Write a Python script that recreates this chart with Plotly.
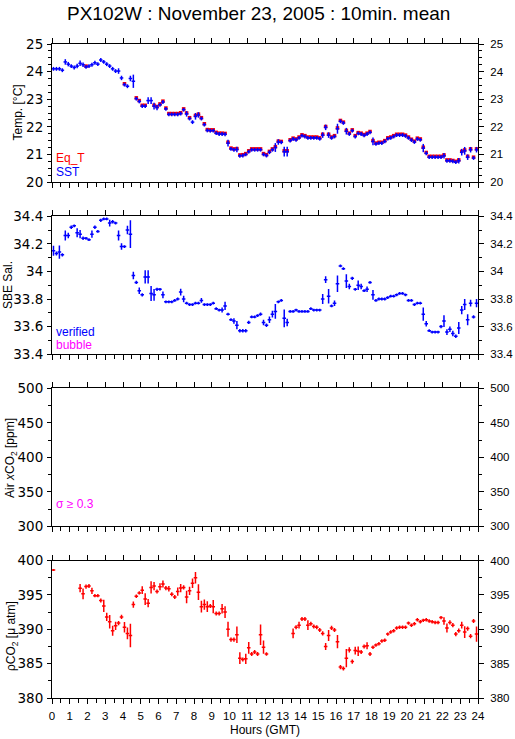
import plotly.graph_objects as go

# ---------------- data (10-minute means, 144 slots per day) ----------------
SST = [
    24.10, 24.10, 24.10, 24.05, 24.35, 24.27,
    24.20, 24.15, 24.20, 24.30, 24.25, 24.17,
    24.20, 24.25, 24.32, 24.27, 24.42, 24.35,
    24.27, 24.20, 24.10, 24.02, 24.02, 23.77,
    23.53, 23.47, 23.75, 23.65, 23.02, 22.92,
    22.75, 22.75, 22.95, 22.95, 22.75, 22.70,
    22.80, 22.90, 22.65, 22.45, 22.45, 22.45,
    22.45, 22.48, 22.62, 22.47, 22.30, 22.17,
    22.38, 22.43, 22.30, 22.08, 21.87, 21.86,
    21.86, 21.77, 21.74, 21.74, 21.73, 21.41,
    21.20, 21.17, 21.18, 20.95, 20.96, 21.00,
    21.10, 21.17, 21.17, 21.17, 21.17, 21.00,
    20.96, 21.08, 21.17, 21.25, 21.45, 21.44,
    21.10, 21.10, 21.50, 21.56, 21.53, 21.60,
    21.68, 21.65, 21.60, 21.60, 21.60, 21.60,
    21.57, 21.70, 21.98, 21.70, 21.60, 21.65,
    21.93, 22.20, 22.14, 21.84, 21.74, 21.86,
    21.65, 21.76, 21.74, 21.69, 21.74, 21.80,
    21.47, 21.38, 21.41, 21.41, 21.47, 21.57,
    21.60, 21.65, 21.70, 21.70, 21.70, 21.67,
    21.60, 21.52, 21.45, 21.56, 21.53, 21.23,
    21.04, 20.90, 20.90, 20.90, 20.90, 20.90,
    20.95, 20.77, 20.77, 20.75, 20.72, 20.77,
    21.08, 21.13, 20.90, 21.17, 20.87, 21.17,
]
SST_SD = [
    .07, .07, .07, .07, .10, .08,
    .07, .07, .08, .10, .08, .07,
    .07, .07, .07, .07, .07, .07,
    .07, .07, .07, .07, .10, .08,
    .07, .07, .10, .24, .07, .07,
    .07, .07, .12, .12, .12, .10,
    .07, .07, .07, .07, .07, .07,
    .07, .07, .07, .10, .07, .07,
    .12, .10, .07, .07, .07, .07,
    .07, .07, .07, .07, .07, .12,
    .07, .07, .10, .07, .07, .07,
    .07, .07, .07, .07, .07, .07,
    .07, .07, .07, .16, .10, .07,
    .18, .18, .07, .07, .07, .07,
    .07, .07, .07, .07, .07, .07,
    .07, .10, .10, .10, .07, .07,
    .18, .07, .07, .12, .07, .07,
    .07, .07, .07, .07, .07, .07,
    .14, .07, .07, .07, .07, .07,
    .07, .07, .07, .07, .07, .07,
    .07, .07, .07, .07, .07, .15,
    .07, .07, .07, .07, .07, .07,
    .10, .07, .07, .07, .07, .10,
    .12, .14, .10, .10, .07, .10,
]
EQ_T = [
    None, None, None, None, None, None,
    None, None, None, None, None, 24.20,
    None, None, None, None, None, None,
    None, None, None, None, None, None,
    23.56, None, None, None, 23.05, 22.95,
    22.78, 22.78, None, None, 22.78, 22.73,
    22.83, 22.93, 22.68, 22.48, 22.48, 22.48,
    22.48, 22.51, 22.65, 22.50, 22.33, None,
    22.41, 22.46, 22.33, 22.11, 21.90, 21.89,
    21.89, 21.80, 21.77, 21.77, 21.76, 21.44,
    21.23, 21.20, 21.21, 20.98, 20.99, 21.03,
    21.13, 21.20, 21.20, 21.20, 21.20, 21.03,
    20.99, 21.11, 21.20, 21.28, 21.48, 21.47,
    21.13, 21.13, 21.53, 21.59, 21.56, 21.63,
    21.71, 21.68, 21.63, 21.63, 21.63, 21.63,
    21.60, 21.73, 22.01, 21.73, 21.63, 21.68,
    21.96, 22.23, 22.17, 21.87, 21.77, 21.89,
    21.68, 21.79, 21.77, 21.72, 21.77, 21.83,
    21.50, 21.41, 21.44, 21.44, 21.50, 21.60,
    21.63, 21.68, 21.73, 21.73, 21.73, 21.70,
    21.63, 21.55, 21.48, 21.59, 21.56, 21.26,
    21.07, 20.93, 20.93, 20.93, 20.93, 20.93,
    20.98, 20.80, 20.80, 20.78, 20.75, 20.80,
    21.11, 21.16, 20.93, 21.20, 20.90, 21.20,
]
SAL = [
    34.15, 34.13, 34.14, 34.12, 34.26, 34.26,
    34.32, 34.33, 34.28, 34.27, 34.24, 34.24,
    34.23, 34.27, 34.32, 34.29, 34.37, 34.38,
    34.38, 34.35, 34.36, 34.35, 34.26, 34.18,
    34.18, 34.30, 34.27, 33.97, 33.92, 33.86,
    33.83, 33.96, 33.96, 33.84, 33.83, 33.87,
    33.87, 33.83, 33.78, 33.78, 33.78, 33.79,
    33.80, 33.85, 33.80, 33.77, 33.76, 33.76,
    33.77, 33.77, 33.79, 33.76, 33.76, 33.76,
    33.77, 33.73, 33.72, 33.72, 33.75, 33.69,
    33.65, 33.64, 33.61, 33.57, 33.57, 33.57,
    33.63, 33.67, 33.67, 33.68, 33.69, 33.63,
    33.61, 33.65, 33.69, 33.71, 33.78, 33.79,
    33.66, 33.63, 33.71, 33.71, 33.72, 33.71,
    33.71, 33.71, 33.71, 33.73, 33.72, 33.72,
    33.72, 33.80, 33.94, 33.82, 33.75, 33.77,
    33.91, 34.04, 34.02, 33.93, 33.89, 33.95,
    33.87, 33.90, 33.89, 33.86, 33.87, 33.92,
    33.83, 33.79, 33.80, 33.80, 33.80, 33.81,
    33.82, 33.82, 33.83, 33.84, 33.84, 33.83,
    33.79, 33.79, 33.76, 33.77, 33.77, 33.69,
    33.62, 33.57, 33.56, 33.56, 33.56, 33.60,
    33.64, 33.56, 33.58, 33.55, 33.53, 33.59,
    33.72, 33.76, 33.65, 33.77, 33.67, 33.77,
]
SAL_SD = [
    .036, .015, .048, .012, .036, .020,
    .012, .010, .033, .030, .012, .010,
    .010, .027, .012, .010, .012, .010,
    .010, .024, .012, .010, .036, .024,
    .010, .030, .100, .027, .012, .024,
    .012, .048, .048, .054, .042, .012,
    .010, .024, .010, .010, .010, .010,
    .010, .024, .024, .010, .010, .010,
    .010, .010, .018, .010, .010, .010,
    .010, .010, .010, .018, .030, .010,
    .010, .020, .030, .012, .012, .012,
    .012, .010, .010, .010, .012, .020,
    .012, .024, .024, .054, .010, .010,
    .064, .027, .010, .010, .010, .010,
    .010, .010, .010, .010, .010, .010,
    .010, .036, .024, .052, .010, .020,
    .060, .010, .010, .050, .020, .012,
    .010, .034, .020, .010, .020, .010,
    .036, .010, .010, .010, .010, .010,
    .010, .010, .010, .010, .010, .010,
    .010, .010, .010, .010, .010, .048,
    .020, .010, .010, .010, .010, .012,
    .042, .020, .020, .020, .012, .044,
    .030, .040, .040, .024, .012, .030,
]
PCO2 = [
    398.64, None, None, None, None, None,
    None, None, None, 395.98, 395.16, 396.22,
    396.3, 395.6, 394.9, 394.9, 394.2, 393.4,
    391.8, 391.1, 389.8, 390.5, 390.9, 391.8,
    390.3, 389.4, 389.1, 393.6, 394.8, 395.3,
    395.7, 394.4, 393.8, 396.1, 396.3, 395.5,
    396.2, 396.6, 396.0, 395.9, 395.1, 394.7,
    395.5, 396.0, 396.1, 394.7, 395.6, 396.7,
    397.5, 395.4, 393.3, 393.6, 393.3, 393.4,
    393.3, 392.3, 392.3, 393.0, 392.5, 390.0,
    388.5, 388.5, 389.2, 385.8, 385.6, 385.7,
    387.3, 386.4, 386.7, 386.4, 389.2, 387.4,
    386.4, None, None, None, None, None,
    None, None, None, 389.4, 390.3, 390.6,
    391.5, 391.5, 390.6, 390.8, 390.4, 390.3,
    389.9, 389.4, 387.5, 389.1, 390.2, 389.9,
    388.2, 384.5, 384.3, 385.8, 387.0, 385.3,
    386.9, 386.8, 386.7, 387.5, 387.6, 386.4,
    387.4, 387.7, 387.9, 388.3, 388.4, 389.3,
    389.6, 389.8, 390.2, 390.3, 390.3, 390.3,
    390.9, 390.6, 390.8, 391.4, 391.1, 391.3,
    391.4, 391.2, 391.1, 391.0, 391.0, 391.7,
    391.2, 390.2, 391.0, 390.6, 389.3, 389.8,
    390.6, 389.6, 390.1, 389.0, 391.2, 389.3,
]
PCO2_SD = [
    0.15, 0, 0, 0, 0, 0,
    0, 0, 0, 0.6, 0.78, 0.3,
    0.3, 0.45, 0.25, 0.25, 0.3, 0.9,
    0.6, 0.97, 0.73, 0.6, 0.3, 0.3,
    0.78, 0.85, 1.7, 0.45, 0.25, 0.25,
    0.55, 0.85, 0.6, 0.9, 0.6, 0.3,
    0.5, 0.5, 0.3, 0.4, 0.3, 0.3,
    0.6, 0.6, 0.3, 0.9, 0.6, 0.7,
    0.85, 1.15, 0.85, 0.75, 0.8, 0.3,
    0.97, 0.3, 0.3, 0.7, 0.85, 1.1,
    0.3, 0.3, 1.2, 0.85, 0.3, 0.75,
    0.85, 0.3, 0.3, 0.3, 1.5, 0.97,
    0.25, 0, 0, 0, 0, 0,
    0, 0, 0, 0.7, 0.3, 0.5,
    0.3, 0.3, 0.7, 0.3, 0.3, 0.3,
    0.3, 0.3, 0.5, 0.8, 0.3, 0.3,
    0.97, 0.3, 0.3, 1.33, 0.37, 0.3,
    0.55, 0.7, 0.3, 0.3, 0.5, 0.3,
    0.25, 0.25, 0.25, 0.25, 0.25, 0.25,
    0.25, 0.25, 0.25, 0.25, 0.25, 0.25,
    0.25, 0.25, 0.25, 0.25, 0.25, 0.25,
    0.25, 0.25, 0.25, 0.25, 0.25, 0.25,
    0.55, 0.65, 0.3, 0.3, 0.3, 0.3,
    0.5, 0.85, 0.3, 0.3, 0.3, 1.1,
]
HOUR_TICKS = list(range(0, 25))

N = len(SST)
T = [(i + 0.5) / 6 for i in range(N)]   # centre of each 10-minute slot (hours)
HALF_SLOT = 0.1                          # half width of the 10-minute bar (hours)

# ---------------- geometry ----------------
W, H = 515, 739
ML, MR, MT, MB = 52, 37, 44, 41
PW, PH = W - ML - MR, H - MT - MB


def pxx(x):
    return (x - ML) / PW


def pyy(y):
    return (H - MB - y) / PH


TOPS = [44, 216.2, 388.4, 560.6]
PANEL_H = 138
DOMAINS = [[max(0, pyy(t + PANEL_H)), min(1, pyy(t))] for t in TOPS]

YR = [(20, 25, 1, 0.25), (33.4, 34.4, 0.2, 0.1), (300, 500, 50, 25), (380, 400, 5, 2.5)]

LEFT_FONT = dict(family="DejaVu Sans, Liberation Sans, Arial", size=13.5, color="black")
RIGHT_FONT = dict(family="Liberation Sans, Arial", size=11.5, color="black")
BOT_FONT = dict(family="Liberation Sans, Arial", size=11.5, color="black")

fig = go.Figure()


def cross(x, y, sd, color, xa, ya, thick=1.5):
    return go.Scatter(
        x=x, y=y, mode="markers", xaxis=xa, yaxis=ya, showlegend=False,
        hoverinfo="skip",
        marker=dict(size=1, color=color, line=dict(width=0)),
        error_x=dict(type="constant", value=HALF_SLOT, color=color, thickness=thick, width=0),
        error_y=dict(type="data", array=sd, symmetric=True, color=color, thickness=thick, width=0),
    )


# Panel 1: Eq_T (red) under SST (blue)
fig.add_trace(go.Scatter(
    x=T, y=EQ_T, mode="markers", xaxis="x", yaxis="y", showlegend=False, hoverinfo="skip",
    marker=dict(size=1, color="red"),
    error_x=dict(type="constant", value=HALF_SLOT, color="red", thickness=3.5, width=0),
))
fig.add_trace(cross(T, SST, SST_SD, "blue", "x", "y"))
# Panel 2: salinity
fig.add_trace(cross(T, SAL, SAL_SD, "blue", "x2", "y2"))
# Panel 4: pCO2
fig.add_trace(cross(T, PCO2, PCO2_SD, "red", "x4", "y4"))

# dummy traces so every overlay axis gets drawn
for k in range(1, 5):
    xs = "x" if k == 1 else f"x{k}"
    ys = "y" if k == 1 else f"y{k}"
    fig.add_trace(go.Scatter(x=[None], y=[None], xaxis=xs, yaxis=ys, showlegend=False, hoverinfo="skip"))
    fig.add_trace(go.Scatter(x=[None], y=[None], xaxis=f"x{k+4}", yaxis=ys, showlegend=False, hoverinfo="skip"))
    fig.add_trace(go.Scatter(x=[None], y=[None], xaxis=xs, yaxis=f"y{k+4}", showlegend=False, hoverinfo="skip"))

layout = {}
for k in range(1, 5):
    lo, hi, dt, mdt = YR[k - 1]
    xs = "x" if k == 1 else f"x{k}"
    ys = "y" if k == 1 else f"y{k}"
    xkey = "xaxis" if k == 1 else f"xaxis{k}"
    ykey = "yaxis" if k == 1 else f"yaxis{k}"
    common_line = dict(showline=True, linecolor="black", linewidth=1, showgrid=False,
                       zeroline=False, automargin=False)
    layout[xkey] = dict(
        domain=[0, 1], range=[0, 24], anchor=ys, tickmode="array", tickvals=HOUR_TICKS,
        ticktext=[str(h) for h in HOUR_TICKS], ticks="outside", ticklen=5, tickcolor="black",
        showticklabels=(k == 4), tickfont=BOT_FONT, ticklabelstandoff=2,
        minor=dict(dtick=0.5, tick0=0, ticks="outside", ticklen=4, tickcolor="black", showgrid=False),
        **common_line,
    )
    layout[f"xaxis{k+4}"] = dict(
        overlaying=xs, side="top", anchor=ys, range=[0, 24], dtick=1, tick0=0,
        ticks="outside", ticklen=5, tickcolor="black", showticklabels=False, **common_line,
    )
    layout[ykey] = dict(
        domain=DOMAINS[k - 1], range=[lo, hi], anchor=xs, dtick=dt, tick0=lo,
        ticks="outside", ticklen=4, tickcolor="black", tickfont=LEFT_FONT, ticklabelstandoff=1,
        minor=dict(dtick=mdt, tick0=lo, ticks="outside", ticklen=3, tickcolor="black", showgrid=False),
        **common_line,
    )
    layout[f"yaxis{k+4}"] = dict(
        overlaying=ys, side="right", anchor=xs, range=[lo, hi], dtick=dt, tick0=lo,
        ticks="outside", ticklen=5, tickcolor="black", tickfont=RIGHT_FONT, ticklabelstandoff=4,
        minor=dict(dtick=mdt, tick0=lo, ticks="outside", ticklen=3, tickcolor="black", showgrid=False),
        **common_line,
    )

TXT = "Liberation Sans, Arial"
ann = []


def add_text(text, x, y, color="black", size=12, angle=0, xanchor="center"):
    ann.append(dict(text=text, x=pxx(x), y=pyy(y), xref="paper", yref="paper",
                    showarrow=False, textangle=angle, xanchor=xanchor, yanchor="middle",
                    font=dict(family=TXT, size=size, color=color)))


add_text("PX102W : November 23, 2005 : 10min. mean", 258, 13, size=19)
add_text("Temp. [°C]", 17.5, 113, angle=-90)
add_text("SBE Sal.", 8, 285, angle=-90)
add_text("Air <i>x</i>CO<sub>2</sub> [ppm]", 11, 458, angle=-90)
add_text("ρCO<sub>2</sub> [μ atm]", 12, 636, angle=-90)
add_text("Eq_T", 54, 158, color="red", xanchor="left")
add_text("SST", 54, 172.5, color="blue", xanchor="left")
add_text("verified", 54, 331.5, color="blue", xanchor="left")
add_text("bubble", 54, 345, color="#ff00ff", xanchor="left")
add_text("σ ≥ 0.3", 54, 504, color="#ff00ff", xanchor="left")
add_text("Hours (GMT)", 265, 730)

fig.update_layout(
    width=W, height=H, margin=dict(l=ML, r=MR, t=MT, b=MB, pad=0, autoexpand=False),
    paper_bgcolor="white", plot_bgcolor="white", showlegend=False,
    annotations=ann, **layout,
)

fig.write_html(
    "out.html",
    config={"displayModeBar": False, "staticPlot": True},
    post_script="document.body.style.margin='0px';document.body.style.overflow='hidden';",
)
